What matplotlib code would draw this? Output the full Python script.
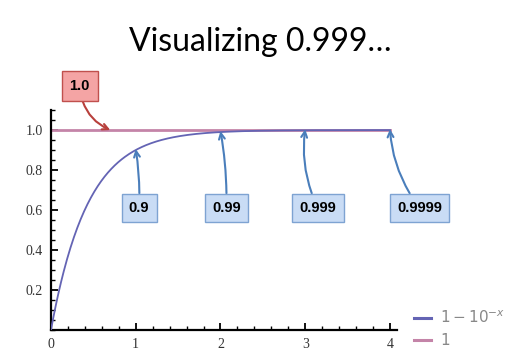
import numpy as np
import matplotlib.pyplot as plt
from matplotlib.ticker import MultipleLocator

# data
x_max = 4.0
callout_x = [1, 2, 3, 4]
callout_labels = ["0.9", "0.99", "0.999", "0.9999"]
callout_box_x = [1.04, 2.07, 3.15, 4.35]
callout_box_y = 0.61
one_label = "1.0"
one_box = (0.34, 1.22)
one_tip = (0.70, 1.0)

xs = np.linspace(0, x_max, 400)
ys = 1 - 10.0 ** (-xs)

fig = plt.figure(figsize=(5.2, 3.53), dpi=100)
fig.text(0.5, 0.88, "Visualizing 0.999\u2026", ha="center", va="center",
         fontsize=23, family="Lato", color="black")

ax = fig.add_axes([0.098, 0.0652, 0.665, 0.623])
blue = "#6464b4"
pink = "#c484a8"
ax.plot(xs, ys, color=blue, lw=1.3, label=r"$1-10^{-x}$", zorder=3)
ax.plot([0, x_max], [1, 1], color=pink, lw=2, label="1", zorder=2)

ax.set_xlim(0, 4.08)
ax.set_ylim(0, 1.1)
for s in ["top", "right"]:
    ax.spines[s].set_visible(False)
for s in ["left", "bottom"]:
    ax.spines[s].set_linewidth(1.6)
ax.xaxis.set_major_locator(MultipleLocator(1))
ax.xaxis.set_minor_locator(MultipleLocator(0.2))
ax.yaxis.set_minor_locator(MultipleLocator(0.05))
ax.set_yticks([0.2, 0.4, 0.6, 0.8, 1.0])
ax.set_yticklabels(["0.2", "0.4", "0.6", "0.8", "1.0"])
ax.tick_params(direction="in", which="major", length=5, width=1.3, labelsize=10, pad=6)
ax.tick_params(direction="in", which="minor", length=3, width=1)
for lab in ax.get_xticklabels() + ax.get_yticklabels():
    lab.set_family("Liberation Serif")
    lab.set_color("#333333")

# callouts
for cx, lab, bx in zip(callout_x, callout_labels, callout_box_x):
    ty = 1 - 10.0 ** (-cx)
    ax.annotate(lab, xy=(cx, ty + 0.005), xytext=(bx, callout_box_y),
                ha="center", va="center", fontsize=10.5, fontweight="bold", family="Liberation Sans",
                bbox=dict(boxstyle="square,pad=0.5", fc="#c9dcf5", ec="#7ea3d2", lw=1),
                arrowprops=dict(arrowstyle="->", color="#4a7ebb", lw=1.5,
                                connectionstyle="arc3,rad=-0.15" if cx > 2 else "arc3,rad=0.05",
                                shrinkA=0, shrinkB=0),
                zorder=5)

ax.annotate(one_label, xy=one_tip, xytext=one_box, ha="center", va="center",
            fontsize=10.5, fontweight="bold", family="Liberation Sans",
            bbox=dict(boxstyle="square,pad=0.55", fc="#f4a4a4", ec="#c0504d", lw=1),
            arrowprops=dict(arrowstyle="->", color="#b8403c", lw=1.5,
                            connectionstyle="arc3,rad=0.3", shrinkA=0, shrinkB=0),
            annotation_clip=False, zorder=5)

leg = fig.legend(loc="lower left", bbox_to_anchor=(0.77, -0.025), frameon=False,
                 fontsize=11, handlelength=1.1, labelspacing=0.45, handletextpad=0.6)
for t in leg.get_texts():
    t.set_color("#888888")
for h in leg.get_lines():
    h.set_linewidth(2.2)

fig.savefig("out.png", dpi=100)
